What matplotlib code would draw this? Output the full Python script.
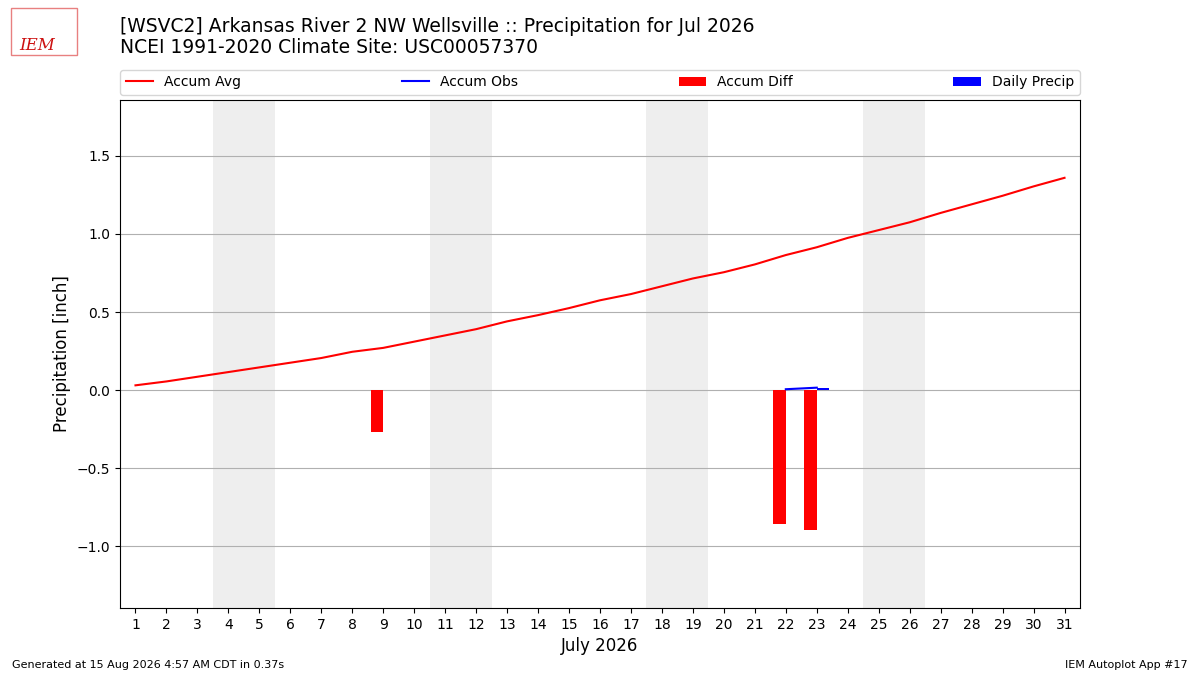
import matplotlib
matplotlib.use("Agg")
import matplotlib.pyplot as plt
from matplotlib.patches import Rectangle
import numpy as np

# Données (juillet 2026)
days = list(range(1, 32))
accum_avg = [0.03, 0.055, 0.085, 0.115, 0.145, 0.175, 0.205, 0.245, 0.27, 0.31,
             0.35, 0.39, 0.44, 0.48, 0.525, 0.575, 0.615, 0.665, 0.715, 0.755,
             0.805, 0.865, 0.915, 0.975, 1.025, 1.075, 1.135, 1.19, 1.245, 1.305,
             1.36]
obs_days = [22, 23]
accum_obs = [0.005, 0.015]
diff_days = [9, 22, 23]
accum_diff = [-0.27, -0.86, -0.90]
precip_days = [23]
daily_precip = [0.01]
weekends = [(4, 5), (11, 12), (18, 19), (25, 26)]


def main():
    fig = plt.figure(figsize=(12, 6.75), dpi=100)
    ax = fig.add_axes([0.1, 0.0993, 0.8, 0.7526])

    for start, end in weekends:
        ax.axvspan(start - 0.5, end + 0.5, color="#eeeeee", zorder=0, lw=0)

    ax.plot(days, accum_avg, color="r", label="Accum Avg", zorder=3)
    ax.plot(obs_days, accum_obs, color="b", label="Accum Obs", zorder=3)
    ax.bar(np.array(diff_days) - 0.4, accum_diff, width=0.4, align="edge",
           color="r", label="Accum Diff", zorder=2)
    ax.bar(precip_days, daily_precip, width=0.4, align="edge",
           color="b", label="Daily Precip", zorder=2)

    ax.set_xlim(0.5, 31.5)
    ax.set_ylim(-1.397, 1.859)
    ax.set_xticks(days)
    ax.set_yticks([-1.0, -0.5, 0.0, 0.5, 1.0, 1.5])
    ax.tick_params(labelsize=10)
    ax.yaxis.grid(True, color="#b0b0b0", zorder=1)
    ax.set_axisbelow(True)
    ax.set_xlabel("July 2026", fontsize=12)
    ax.set_ylabel("Precipitation [inch]", fontsize=12)

    ax.legend(loc="lower left", bbox_to_anchor=(0, 1.01, 1, 0.05), ncol=4,
              mode="expand", borderaxespad=0, fontsize=10)

    fig.text(0.1, 0.961, "[WSVC2] Arkansas River 2 NW Wellsville :: Precipitation for Jul 2026",
             fontsize=13.5, va="center")
    fig.text(0.1, 0.929, "NCEI 1991-2020 Climate Site: USC00057370",
             fontsize=13.5, va="center")

    # logo IEM simplifié
    fig.patches.append(Rectangle((0.009, 0.918), 0.055, 0.07, transform=fig.transFigure,
                                 fill=False, edgecolor="#e88080", lw=1))
    fig.text(0.031, 0.933, "IEM", fontsize=12, color="#cc1111", family="serif",
             style="italic", ha="center", va="center")

    fig.text(0.01, 0.01, "Generated at 15 Aug 2026 4:57 AM CDT in 0.37s", fontsize=8)
    fig.text(0.99, 0.01, "IEM Autoplot App #17", fontsize=8, ha="right")

    fig.savefig("out.png", dpi=100)


if __name__ == "__main__":
    main()
